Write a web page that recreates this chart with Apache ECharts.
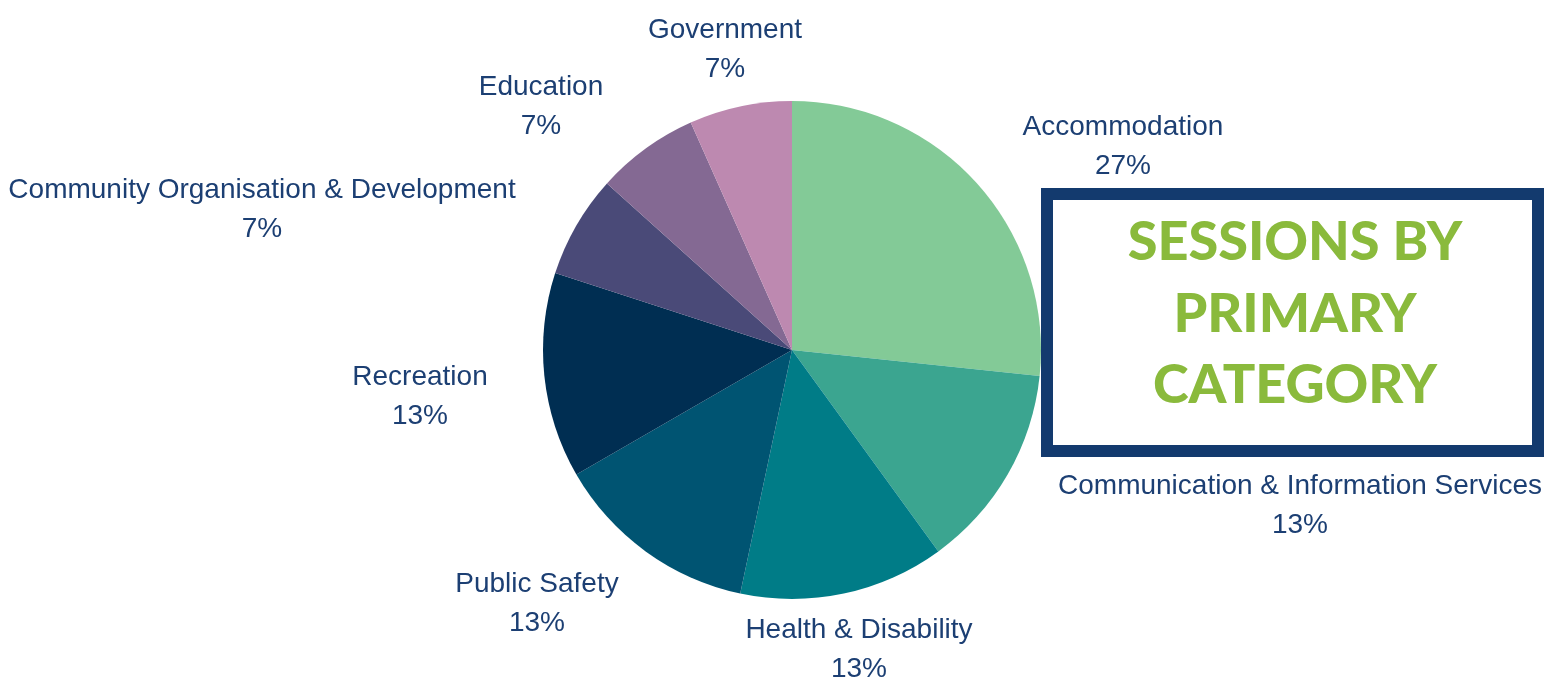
<!DOCTYPE html>
<html>
<head>
<meta charset="utf-8">
<script src="https://cdn.jsdelivr.net/npm/echarts@6/dist/echarts.min.js"></script>
<style>
html,body{margin:0;padding:0;background:#fff;}
#chart{width:1550px;height:689px;}
</style>
</head>
<body>
<div id="chart"></div>
<script>
// ---- data ----
const categories = [
  'Accommodation',
  'Communication & Information Services',
  'Health & Disability',
  'Public Safety',
  'Recreation',
  'Community Organisation & Development',
  'Education',
  'Government'
];
const sessions = [4, 2, 2, 2, 2, 1, 1, 1];
const titleLines = ['SESSIONS BY', 'PRIMARY', 'CATEGORY'];

// ---- styles / layout ----
const sliceColors = ['#83ca97', '#3ba590', '#007c87', '#005472', '#002e52', '#4a4a78', '#846993', '#bd89b0'];
const CX = 792, CY = 350, R = 249;
// label block centres, as offsets from pie centre
const labelOffsets = [
  [331, -203], [508, 156], [67, 300], [-255, 254],
  [-372, 47], [-530, -140], [-251, -243], [-67, -300]
];
const textColor = '#1c3f73';

const chart = echarts.init(document.getElementById('chart'));
chart.setOption({
  animation: false,
  backgroundColor: '#ffffff',
  graphic: [
    {
      type: 'rect',
      shape: { x: 1047, y: 194, width: 491, height: 257 },
      style: { fill: '#ffffff', stroke: '#133a6e', lineWidth: 12 }
    },
    ...titleLines.map((t, i) => ({
      type: 'text',
      x: 1295,
      y: 243 + i * 71.5,
      style: {
        text: t,
        fill: '#8aba3c',
        font: '900 54px Lato, "DejaVu Sans", sans-serif',
        align: 'center',
        verticalAlign: 'middle'
      }
    }))
  ],
  series: [{
    type: 'pie',
    center: [CX, CY],
    radius: [0, R],
    startAngle: 90,
    clockwise: true,
    avoidLabelOverlap: false,
    percentPrecision: 2,
    itemStyle: { borderWidth: 0 },
    emphasis: { disabled: true },
    label: {
      show: true,
      position: 'outside',
      formatter: p => p.name + '\n' + Math.round(p.percent) + '%',
      color: textColor,
      fontSize: 28,
      fontFamily: '"Liberation Sans", Arial, sans-serif',
      lineHeight: 39,
      align: 'center'
    },
    labelLine: { show: false },
    labelLayout: function (params) {
      const o = labelOffsets[params.dataIndex];
      return { x: CX + o[0], y: CY + o[1], align: 'center', verticalAlign: 'middle' };
    },
    data: categories.map((c, i) => ({
      name: c,
      value: sessions[i],
      itemStyle: { color: sliceColors[i] }
    }))
  }]
});
</script>
</body>
</html>
